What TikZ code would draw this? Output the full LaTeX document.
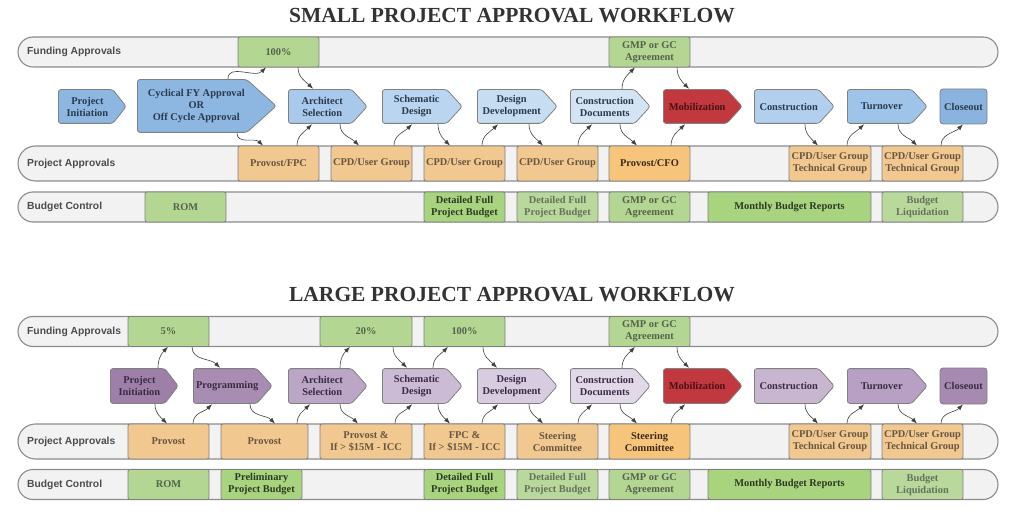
\documentclass[tikz,border=0pt]{standalone}
\usepackage{fontspec}
\setmainfont{Liberation Serif}
\setsansfont{Liberation Sans}
\usetikzlibrary{arrows.meta}

\definecolor{lanefill}{HTML}{F2F2F2}
\definecolor{laneline}{HTML}{8C8C8C}
\definecolor{boxline}{HTML}{808080}
\definecolor{fundgreen}{HTML}{B4D693}
\definecolor{budgreen}{HTML}{A8D480}
\definecolor{palegreen}{HTML}{B8D89C}
\definecolor{apptan}{HTML}{F0C890}
\definecolor{appgold}{HTML}{F7C47C}
\definecolor{tantext}{HTML}{6A5641}
\definecolor{tankey}{HTML}{3A2C1A}
\definecolor{greentext}{HTML}{55634A}
\definecolor{greenkey}{HTML}{2D3A22}
\definecolor{greenpale}{HTML}{66725C}
\definecolor{mobred}{HTML}{C1393F}
\definecolor{mobtext}{HTML}{4A1013}
\definecolor{bluetext}{HTML}{2B3A4D}
\definecolor{purptext}{HTML}{3B2B45}
\definecolor{blueA}{HTML}{8DB6E1}
\definecolor{blueB}{HTML}{A8C9EB}
\definecolor{blueC}{HTML}{BAD5F0}
\definecolor{blueD}{HTML}{C6DDF2}
\definecolor{blueE}{HTML}{D3E4F5}
\definecolor{blueF}{HTML}{B2D0EE}
\definecolor{blueG}{HTML}{9FC4EA}
\definecolor{blueH}{HTML}{8AB4DF}
\definecolor{purpA}{HTML}{9D7FA8}
\definecolor{purpB}{HTML}{A88CB2}
\definecolor{purpC}{HTML}{BBA6C5}
\definecolor{purpD}{HTML}{CBBBD4}
\definecolor{purpE}{HTML}{D8CDE0}
\definecolor{purpF}{HTML}{E2D9E8}
\definecolor{purpG}{HTML}{C8B6D1}
\definecolor{purpH}{HTML}{B7A0C3}
\definecolor{purpI}{HTML}{A68AB1}

\tikzset{
  title/.style={font=\bfseries\fontsize{21.5}{24}\selectfont, text=black!80},
  lane/.style={draw=laneline, fill=lanefill, line width=1.1pt, minimum width=980, minimum height=#1, rounded corners=#1/2, inner sep=0},
  lanelabel/.style={anchor=west, inner sep=0, font=\sffamily\bfseries\fontsize{10.3}{12}\selectfont, text=black!70},
  cell/.style={draw=boxline, line width=0.8pt, rounded corners=2pt, inner sep=1pt, align=center, minimum width=81, font=\bfseries\fontsize{10.4}{12}\selectfont},
  fund/.style={cell, fill=fundgreen, minimum height=30, text=greentext},
  appr/.style={cell, fill=apptan, minimum height=35, text=tantext},
  apprkey/.style={cell, fill=appgold, minimum height=35, text=tankey},
  budg/.style={cell, fill=fundgreen, minimum height=30, text=greentext},
  budgkey/.style={cell, fill=budgreen, minimum height=30, text=greenkey},
  budgpale/.style={cell, fill=palegreen, minimum height=30, text=greenpale},
  proc/.style n args={3}{anchor=east, minimum width={#2+0.7*#3}, minimum height=35, inner sep=0, align=center, font=\bfseries\fontsize{10.4}{12}\selectfont,
    path picture={\draw[fill=#1, draw=boxline, line width=0.8pt, rounded corners=2.5pt]
      ([xshift={0.7*#3pt+0.6pt},yshift=-0.6pt]path picture bounding box.north west)
      -- ([xshift=-#3pt,yshift=-0.6pt]path picture bounding box.north east)
      -- ([xshift=-0.6pt]path picture bounding box.east)
      -- ([xshift=-#3pt,yshift=0.6pt]path picture bounding box.south east)
      -- ([xshift={0.7*#3pt+0.6pt},yshift=0.6pt]path picture bounding box.south west) -- cycle;}},
  endbox/.style={cell, fill=#1, minimum width=47, minimum height=35, rounded corners=3pt},
  conn/.style={draw=black!75, line width=0.6pt, -{Latex[length=6pt,width=4.5pt]}},
  godown/.style={conn, out=-90, in=135},
  goup/.style={conn, out=90, in=-135}
}

\begin{document}
\begin{tikzpicture}[x=1pt,y=1pt]
	\useasboundingbox (0,0) rectangle (1024,-526);

	\node[title] (smalltitle) at (512,-16) {SMALL PROJECT APPROVAL WORKFLOW};
	\node[lane=30] (sfund) at (508,-52) {};
	\node[lane=35] (sappr) at (508,-163.5) {};
	\node[lane=30] (sbudg) at (508,-207) {};
	\node[lanelabel] (sfundlabel) at (27,-52) {Funding Approvals};
	\node[lanelabel] (sapprlabel) at (27,-163.5) {Project Approvals};
	\node[lanelabel] (sbudglabel) at (27,-207) {Budget Control};

	\node[fund] (sf100) at (278.5,-52) {100\%};
	\node[fund] (sfgmp) at (649.5,-52) {GMP or GC\\Agreement};

	\node[appr] (sfpc) at (278.5,-163.5) {Provost/FPC};
	\node[appr] (scpda) at (371.5,-163.5) {CPD/User Group};
	\node[appr] (scpdb) at (464.5,-163.5) {CPD/User Group};
	\node[appr] (scpdc) at (557.5,-163.5) {CPD/User Group};
	\node[apprkey] (scfo) at (649.5,-163.5) {Provost/CFO};
	\node[appr, minimum width=82] (stecha) at (830,-163.5) {CPD/User Group\\Technical Group};
	\node[appr] (stechb) at (922.5,-163.5) {CPD/User Group\\Technical Group};

	\node[budg] (srom) at (185.5,-207) {ROM};
	\node[budgkey] (sdeta) at (464.5,-207) {Detailed Full\\Project Budget};
	\node[budgpale] (sdetb) at (557.5,-207) {Detailed Full\\Project Budget};
	\node[budg] (sbgmp) at (649.5,-207) {GMP or GC\\Agreement};
	\node[budgkey, minimum width=163] (smonth) at (789.5,-207) {Monthly Budget Reports};
	\node[budgpale] (sliq) at (922.5,-207) {Budget\\Liquidation};

	\node[proc={blueA}{69}{14}, text=bluetext] (sinit) at (127,-106.5) {Project\\Initiation};
	\node[proc={blueA}{140}{30}, minimum height=54, text=bluetext] (scycle) at (277,-106) {Cyclical FY Approval\\OR\\Off Cycle Approval};
	\node[proc={blueB}{80}{16}, text=bluetext] (sarch) at (368,-106.5) {Architect\\Selection};
	\node[proc={blueC}{81}{16}, text=bluetext] (sschem) at (463,-106.5) {Schematic\\Design};
	\node[proc={blueD}{81}{16}, text=bluetext] (sdev) at (558,-106.5) {Design\\Development};
	\node[proc={blueE}{81}{16}, text=bluetext] (sdocs) at (651,-106.5) {Construction\\Documents};
	\node[proc={mobred}{80}{16}, text=mobtext] (smob) at (743,-106.5) {Mobilization};
	\node[proc={blueF}{81}{16}, text=bluetext] (scons) at (835,-106.5) {Construction};
	\node[proc={blueG}{81}{16}, text=bluetext] (sturn) at (928,-106.5) {Turnover};
	\node[endbox=blueH, text=bluetext] (sclose) at (963.5,-106.5) {Closeout};

	\draw[goup] ([xshift=-49]scycle.north east) to ([xshift=-12.5]sf100.south);
	\draw[godown] ([xshift=19.5]sf100.south) to ([xshift=-55]sarch.north east);
	\draw[godown] ([xshift=-40]scycle.south east) to ([xshift=-15.5]sfpc.north);
	\draw[goup] ([xshift=18.5]sfpc.north) to ([xshift=-56]sarch.south east);
	\draw[godown] ([xshift=-28]sarch.south east) to ([xshift=-12.5]scpda.north);
	\draw[goup] ([xshift=22.5]scpda.north) to ([xshift=-51]sschem.south east);
	\draw[godown] ([xshift=-25]sschem.south east) to ([xshift=-14.5]scpdb.north);
	\draw[goup] ([xshift=17.5]scpdb.north) to ([xshift=-60]sdev.south east);
	\draw[godown] ([xshift=-29]sdev.south east) to ([xshift=-14.5]scpdc.north);
	\draw[goup] ([xshift=20.5]scpdc.north) to ([xshift=-59]sdocs.south east);
	\draw[goup] ([xshift=-29]sdocs.north east) to ([xshift=-14.5]sfgmp.south);
	\draw[godown] ([xshift=27.5]sfgmp.south) to ([xshift=-54]smob.north east);
	\draw[godown] ([xshift=-31]sdocs.south east) to ([xshift=-12.5]scfo.north);
	\draw[goup] ([xshift=21.5]scfo.north) to ([xshift=-58]smob.south east);
	\draw[godown] ([xshift=-30]scons.south east) to ([xshift=-12]stecha.north);
	\draw[goup] ([xshift=17]stecha.north) to ([xshift=-64]sturn.south east);
	\draw[godown] ([xshift=-30]sturn.south east) to ([xshift=-5.5]stechb.north);
	\draw[goup] ([xshift=18.5]stechb.north) to ([xshift=-0.5]sclose.south);

	\node[title] (largetitle) at (512,-295) {LARGE PROJECT APPROVAL WORKFLOW};
	\node[lane=30] (lfund) at (508,-331.5) {};
	\node[lane=35] (lappr) at (508,-441.5) {};
	\node[lane=30] (lbudg) at (508,-484.5) {};
	\node[lanelabel] (lfundlabel) at (27,-331.5) {Funding Approvals};
	\node[lanelabel] (lapprlabel) at (27,-441.5) {Project Approvals};
	\node[lanelabel] (lbudglabel) at (27,-484.5) {Budget Control};

	\node[fund] (lf5) at (168.5,-331.5) {5\%};
	\node[fund, minimum width=92] (lf20) at (366,-331.5) {20\%};
	\node[fund] (lf100) at (464.5,-331.5) {100\%};
	\node[fund] (lfgmp) at (649.5,-331.5) {GMP or GC\\Agreement};

	\node[appr] (lprova) at (168.5,-441.5) {Provost};
	\node[appr, minimum width=87] (lprovb) at (264.5,-441.5) {Provost};
	\node[appr, minimum width=92] (lprovc) at (366,-441.5) {Provost \&\\If > \$15M - ICC};
	\node[appr] (lfpc) at (464.5,-441.5) {FPC \&\\If > \$15M - ICC};
	\node[appr] (lsteera) at (557.5,-441.5) {Steering\\Committee};
	\node[apprkey] (lsteerb) at (649.5,-441.5) {Steering\\Committee};
	\node[appr, minimum width=82] (ltecha) at (830,-441.5) {CPD/User Group\\Technical Group};
	\node[appr] (ltechb) at (922.5,-441.5) {CPD/User Group\\Technical Group};

	\node[budg] (lrom) at (168.5,-484.5) {ROM};
	\node[budgkey] (lprelim) at (261.5,-484.5) {Preliminary\\Project Budget};
	\node[budgkey] (ldeta) at (464.5,-484.5) {Detailed Full\\Project Budget};
	\node[budgpale] (ldetb) at (557.5,-484.5) {Detailed Full\\Project Budget};
	\node[budg] (lbgmp) at (649.5,-484.5) {GMP or GC\\Agreement};
	\node[budgkey, minimum width=163] (lmonth) at (789.5,-484.5) {Monthly Budget Reports};
	\node[budgpale] (lliq) at (922.5,-484.5) {Budget\\Liquidation};

	\node[proc={purpA}{69}{14}, minimum height=36, text=purptext] (linit) at (179,-386) {Project\\Initiation};
	\node[proc={purpB}{80}{16}, minimum height=36, text=purptext] (lprog) at (273,-386) {Programming};
	\node[proc={purpC}{80}{16}, minimum height=36, text=purptext] (larch) at (368,-386) {Architect\\Selection};
	\node[proc={purpD}{81}{16}, minimum height=36, text=purptext] (lschem) at (463,-386) {Schematic\\Design};
	\node[proc={purpE}{81}{16}, minimum height=36, text=purptext] (ldev) at (558,-386) {Design\\Development};
	\node[proc={purpF}{81}{16}, minimum height=36, text=purptext] (ldocs) at (651,-386) {Construction\\Documents};
	\node[proc={mobred}{80}{16}, minimum height=36, text=mobtext] (lmob) at (743,-386) {Mobilization};
	\node[proc={purpG}{81}{16}, minimum height=36, text=purptext] (lcons) at (835,-386) {Construction};
	\node[proc={purpH}{81}{16}, minimum height=36, text=purptext] (lturn) at (928,-386) {Turnover};
	\node[endbox=purpI, minimum height=36, text=purptext] (lclose) at (963.5,-386) {Closeout};

	\draw[goup] ([xshift=-21]linit.north east) to ([xshift=-0.5]lf5.south);
	\draw[godown] ([xshift=23.5]lf5.south) to ([xshift=-53]lprog.north east);
	\draw[godown] ([xshift=-24]linit.south east) to ([xshift=-1.5]lprova.north);
	\draw[goup] ([xshift=24.5]lprova.north) to ([xshift=-61]lprog.south east);
	\draw[godown] ([xshift=-23]lprog.south east) to ([xshift=10.5]lprovb.north);
	\draw[goup] ([xshift=32.5]lprovb.north) to ([xshift=-58]larch.south east);
	\draw[goup] ([xshift=-28]larch.north east) to ([xshift=-16]lf20.south);
	\draw[godown] ([xshift=27]lf20.south) to ([xshift=-56]lschem.north east);
	\draw[godown] ([xshift=-28]larch.south east) to ([xshift=-8]lprovc.north);
	\draw[goup] ([xshift=29]lprovc.north) to ([xshift=-51]lschem.south east);
	\draw[goup] ([xshift=-30]lschem.north east) to ([xshift=-16.5]lf100.south);
	\draw[godown] ([xshift=18.5]lf100.south) to ([xshift=-61]ldev.north east);
	\draw[godown] ([xshift=-25]lschem.south east) to ([xshift=-14.5]lfpc.north);
	\draw[goup] ([xshift=17.5]lfpc.north) to ([xshift=-60]ldev.south east);
	\draw[godown] ([xshift=-29]ldev.south east) to ([xshift=-14.5]lsteera.north);
	\draw[goup] ([xshift=20.5]lsteera.north) to ([xshift=-59]ldocs.south east);
	\draw[goup] ([xshift=-29]ldocs.north east) to ([xshift=-14.5]lfgmp.south);
	\draw[godown] ([xshift=27.5]lfgmp.south) to ([xshift=-54]lmob.north east);
	\draw[godown] ([xshift=-31]ldocs.south east) to ([xshift=-12.5]lsteerb.north);
	\draw[goup] ([xshift=21.5]lsteerb.north) to ([xshift=-58]lmob.south east);
	\draw[godown] ([xshift=-30]lcons.south east) to ([xshift=-12]ltecha.north);
	\draw[goup] ([xshift=17]ltecha.north) to ([xshift=-64]lturn.south east);
	\draw[godown] ([xshift=-30]lturn.south east) to ([xshift=-5.5]ltechb.north);
	\draw[goup] ([xshift=18.5]ltechb.north) to ([xshift=-0.5]lclose.south);
\end{tikzpicture}
\end{document}
